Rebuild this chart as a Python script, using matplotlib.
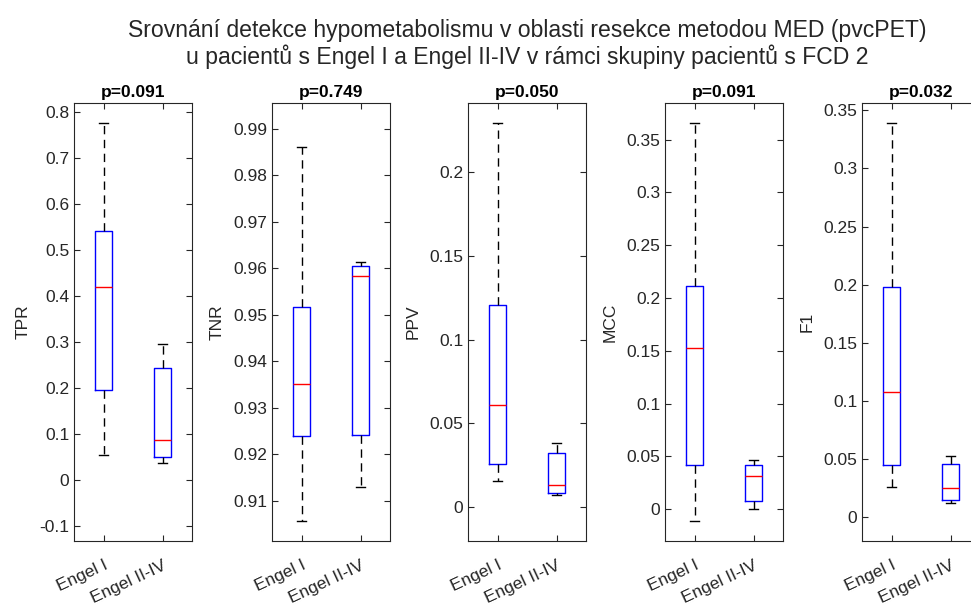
import numpy as np
import matplotlib
matplotlib.use('Agg')
import matplotlib.pyplot as plt

plt.rcParams['font.family'] = ['Liberation Sans', 'DejaVu Sans']

# group labels and metrics
groups = ['Engel I', 'Engel II-IV']
metrics = ['TPR', 'TNR', 'PPV', 'MCC', 'F1']
p_values = ['p=0.091', 'p=0.749', 'p=0.050', 'p=0.091', 'p=0.032']

# box statistics, [Engel I, Engel II-IV]
whis_low = [[0.055, 0.038], [0.9057, 0.9129], [0.0155, 0.0072], [-0.011, 0.000], [0.026, 0.012]]
q1 = [[0.197, 0.050], [0.9238, 0.9242], [0.0255, 0.0085], [0.042, 0.0075], [0.045, 0.015]]
medians = [[0.420, 0.088], [0.9351, 0.9583], [0.061, 0.0133], [0.153, 0.031], [0.108, 0.025]]
q3 = [[0.542, 0.244], [0.9517, 0.9606], [0.121, 0.032], [0.211, 0.042], [0.198, 0.046]]
whis_high = [[0.777, 0.296], [0.9862, 0.9614], [0.2295, 0.038], [0.366, 0.046], [0.339, 0.053]]

y_limits = [(-0.132, 0.82), (0.9013, 0.9956), (-0.0203, 0.2414), (-0.0303, 0.3848), (-0.0204, 0.3563)]
y_ticks = [np.arange(-0.1, 0.81, 0.1), np.arange(0.91, 0.991, 0.01), np.arange(0, 0.21, 0.05),
           np.arange(0, 0.36, 0.05), np.arange(0, 0.36, 0.05)]
tick_fmt = [lambda v: f'{v:.1f}'.rstrip('0').rstrip('.') if abs(v) > 1e-9 else '0',
            lambda v: f'{v:.2f}',
            lambda v: ('%g' % round(v, 3)),
            lambda v: ('%g' % round(v, 3)),
            lambda v: ('%g' % round(v, 3))]

ax_color = '#262626'
W, H = 971, 610
fig = plt.figure(figsize=(W / 100, H / 100), dpi=100)

lefts = [74, 272, 468, 665, 862]
for i, m in enumerate(metrics):
    ax = fig.add_axes([lefts[i] / W, 1 - 541 / H, 118 / W, 438 / H])
    stats = []
    for g in range(2):
        stats.append(dict(med=medians[i][g], q1=q1[i][g], q3=q3[i][g],
                          whislo=whis_low[i][g], whishi=whis_high[i][g], fliers=[]))
    ax.bxp(stats, positions=[1, 2], widths=0.3, capwidths=0.15, showfliers=False,
           boxprops=dict(color='#0000ff', linewidth=1.0),
           medianprops=dict(color='#ff0000', linewidth=1.0),
           whiskerprops=dict(color='black', linestyle=(0, (6, 4)), linewidth=1.0),
           capprops=dict(color='black', linewidth=1.0))
    ax.set_xlim(0.5, 2.5)
    ax.set_ylim(*y_limits[i])
    ax.set_yticks(y_ticks[i])
    ax.set_yticklabels([tick_fmt[i](v) for v in y_ticks[i]])
    ax.set_xticks([1, 2])
    ax.set_xticklabels(groups, rotation=25, ha='right', rotation_mode='anchor')
    ax.tick_params(direction='in', top=True, right=True, length=4, width=0.8,
                   colors=ax_color, labelsize=12.5, labelcolor=ax_color)
    ax.tick_params(axis='x', pad=12)
    for s in ax.spines.values():
        s.set_color(ax_color)
        s.set_linewidth(0.8)
    ax.set_ylabel(m, fontsize=12.5, color=ax_color, labelpad=6)
    ax.set_title(p_values[i], fontsize=12.5, fontweight='bold', pad=4)

fig.text(527 / W, 1 - 30 / H, 'Srovnání detekce hypometabolismu v oblasti resekce metodou MED (pvcPET)',
         ha='center', va='center', fontsize=16.6, color=ax_color)
fig.text(527 / W, 1 - 57 / H, 'u pacientů s Engel I a Engel II-IV v rámci skupiny pacientů s FCD 2',
         ha='center', va='center', fontsize=16.6, color=ax_color)

fig.savefig('out.png', dpi=100)
